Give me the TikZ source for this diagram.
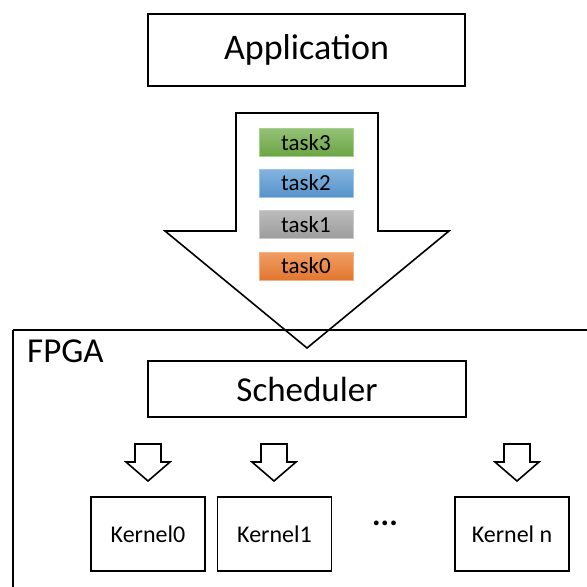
\documentclass[tikz,border=0pt]{standalone}
\usepackage{fontspec}
\setmainfont{Carlito}
\definecolor{taskgreen}{HTML}{70AD47}
\definecolor{taskblue}{HTML}{5B9BD5}
\definecolor{taskgray}{HTML}{A5A5A5}
\definecolor{taskorange}{HTML}{ED7D31}
\tikzset{
  box/.style={draw=black, line width=1.6pt, fill=white, inner sep=0pt},
  taskbox/.style={draw=#1!60!white, line width=0.6pt, minimum width=94pt, minimum height=28pt,
    inner sep=0pt, top color=#1!75!white, bottom color=#1!95!black, font=\fontsize{23}{23}\selectfont},
  kernel/.style={box, minimum width=114pt, minimum height=74pt, font=\fontsize{24}{24}\selectfont},
  outline/.style={draw=black, line width=1.6pt, line join=miter},
  pics/downarrow/.style={code={
    \draw[outline] (-13,0) -- (13,0) -- (13,18) -- (22,18) -- (0,37) -- (-22,18) -- (-13,18) -- cycle;
  }}
}
\begin{document}
\begin{tikzpicture}[x=1pt, y=-1pt]
  \useasboundingbox (0,0) rectangle (587,587);
  \fill[white] (0,0) rectangle (587,587);

  % FPGA frame, running past the right and bottom edges
  \draw[outline] (13,330) -- (600,330);
  \draw[outline] (13,330) -- (13,600);
  \node[anchor=north west, inner sep=0pt, font=\fontsize{35}{35}\selectfont] (fpga) at (27,340) {FPGA};

  % application on top
  \node[box, minimum width=317pt, minimum height=72pt, font=\fontsize{36}{36}\selectfont] (app) at (306.5,50) {Application};

  % big arrow carrying the task queue into the FPGA
  \draw[outline] (236,113) -- (378,113) -- (378,231) -- (449,231) -- (307,348)
        -- (165,231) -- (236,231) -- cycle;

  \node[taskbox=taskgreen]  (t3) at (306,142.5) {task3};
  \node[taskbox=taskblue]   (t2) at (306,183)   {task2};
  \node[taskbox=taskgray]   (t1) at (306,224.5) {task1};
  \node[taskbox=taskorange] (t0) at (306,266)   {task0};

  % scheduler
  \node[box, minimum width=318pt, minimum height=56pt, font=\fontsize{35}{35}\selectfont] (sched) at (307,389) {Scheduler};

  % dispatch arrows
  \pic at (148,444) {downarrow};
  \pic at (274,444) {downarrow};
  \pic at (517,444) {downarrow};

  % kernels
  \node[kernel] (k0) at (148,534) {Kernel0};
  \node[kernel] (k1) at (274.5,534) {Kernel1};
  \node[kernel] (kn) at (512,534) {Kernel n};
  \node[anchor=base, inner sep=0pt, font=\fontsize{32}{32}\selectfont\bfseries] (dots) at (385,525) {...};
\end{tikzpicture}
\end{document}
